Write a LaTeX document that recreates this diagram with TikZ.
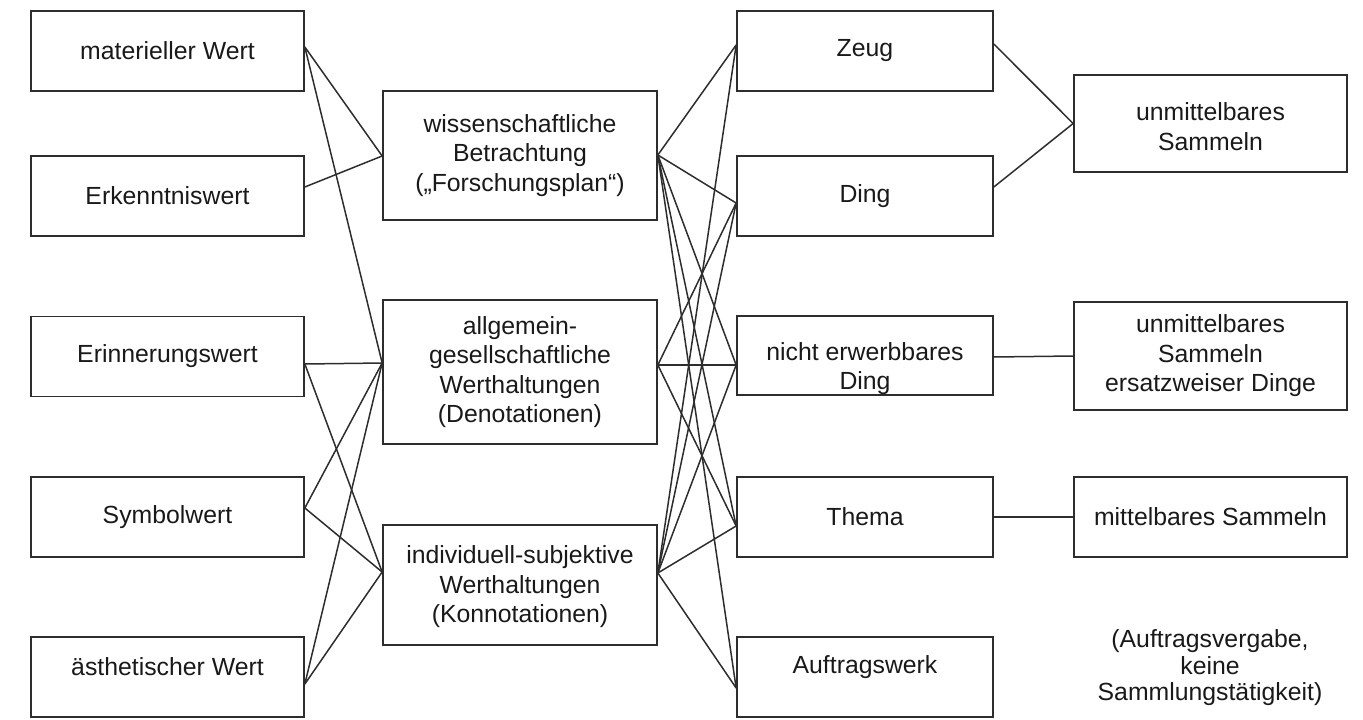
\documentclass[tikz,border=0pt]{standalone}
\usepackage{fontspec}
\setmainfont{Liberation Sans}
\usetikzlibrary{calc}
\definecolor{ln}{RGB}{45,45,45}
\definecolor{tx}{RGB}{25,25,25}
\begin{document}
\begin{tikzpicture}[x=1pt,y=-1pt,
  txt/.style={align=center,text=tx,inner sep=0pt,font=\fontsize{24.8}{29.5}\selectfont},
  box/.style={draw=ln,line width=1.7pt,rectangle,txt},
  wa/.style={box,minimum width=273pt,minimum height=80pt},
  wb/.style={box,minimum width=274pt},
  wc/.style={box,minimum width=256pt,minimum height=80pt},
  conn/.style={draw=ln,line width=1.5pt}]
\useasboundingbox (0,0) rectangle (1363,720);
% column 1
\node[wa] (mat)  at (167.5,51)  {materieller Wert};
\node[wa] (erk)  at (167.5,196) {Erkenntniswert};
\node[wa] (erin) at (167.5,356.5) {Erinnerungswert};
\node[wa] (sym)  at (167.5,517) {Symbolwert};
\node[wa,label={[txt,yshift=10pt]center:ästhetischer Wert}] (aest) at (167.5,677) {};
% column 2
\node[wb,minimum height=129pt] (A) at (520,155.5) {wissenschaftliche\\Betrachtung\\(„Forschungsplan“)};
\node[wb,minimum height=144pt] (B) at (520,372) {allgemein-\\gesellschaftliche\\Werthaltungen\\(Denotationen)};
\node[wb,minimum height=120pt,label={[txt,yshift=-2pt]center:{individuell-subjektive\\Werthaltungen\\(Konnotationen)}}] (C) at (520,585) {};
% column 3
\node[wc] (zeug) at (865,51)  {Zeug};
\node[wc] (ding) at (865,196) {Ding};
\node[wc,minimum height=79pt,label={[txt,yshift=-13pt]center:{nicht erwerbbares\\Ding}}] (ned) at (865,355.5) {};
\node[wc] (thema) at (865,517) {Thema};
\node[wc,label={[txt,yshift=10pt]center:Auftragswerk}] (auft) at (865,677) {};
% column 4
\node[wa,minimum height=97pt,label={[txt,yshift=-3pt]center:{unmittelbares\\Sammeln}}] (unm) at (1210.5,123.5) {};
\node[wa,minimum height=108pt] (ers) at (1210.5,356) {unmittelbares\\Sammeln\\ersatzweiser Dinge};
\node[wa] (mit) at (1210.5,517) {mittelbares Sammeln};
\node[txt,font=\fontsize{24.8}{26.5}\selectfont] (note) at (1210,668) {(Auftragsvergabe,\\keine\\Sammlungstätigkeit)};
% anchor points
\coordinate (matR) at ($(mat.east)+(0,-4)$);
\coordinate (erkR) at ($(erk.east)+(0,-9)$);
\coordinate (erinR) at ($(erin.east)+(0,7.5)$);
\coordinate (symR) at ($(sym.east)+(0,-9)$);
\coordinate (aestR) at ($(aest.east)+(0,7)$);
\coordinate (AL) at ($(A.west)+(0,0.5)$);
\coordinate (BL) at ($(B.west)+(0,-9)$);
\coordinate (CL) at ($(C.west)+(0,-13)$);
\coordinate (AR) at ($(A.east)+(0,-0.5)$);
\coordinate (BR) at ($(B.east)+(0,-7)$);
\coordinate (CR) at ($(C.east)+(0,-12)$);
\coordinate (zeugL) at ($(zeug.west)+(0,-6)$);
\coordinate (dingL) at ($(ding.west)+(0,7)$);
\coordinate (nedL) at ($(ned.west)+(0,9.5)$);
\coordinate (themaL) at ($(thema.west)+(0,9)$);
\coordinate (auftL) at ($(auft.west)+(0,11)$);
\coordinate (zeugR) at ($(zeug.east)+(0,-7)$);
\coordinate (dingR) at ($(ding.east)+(0,-9)$);
\coordinate (nedR) at ($(ned.east)+(0,1.5)$);
% left connectors
\draw[conn] (matR) -- (AL);
\draw[conn] (matR) -- (BL);
\draw[conn] (erkR) -- (AL);
\draw[conn] (erinR) -- (BL);
\draw[conn] (erinR) -- (CL);
\draw[conn] (symR) -- (BL);
\draw[conn] (symR) -- (CL);
\draw[conn] (aestR) -- (BL);
\draw[conn] (aestR) -- (CL);
% middle connectors
\draw[conn] (AR) -- (zeugL);
\draw[conn] (AR) -- (dingL);
\draw[conn] (AR) -- (nedL);
\draw[conn] (AR) -- (themaL);
\draw[conn] (AR) -- (auftL);
\draw[conn] (BR) -- (dingL);
\draw[conn] (BR) -- (nedL);
\draw[conn] (BR) -- (themaL);
\draw[conn] (CR) -- (zeugL);
\draw[conn] (CR) -- (dingL);
\draw[conn] (CR) -- (nedL);
\draw[conn] (CR) -- (themaL);
\draw[conn] (CR) -- (auftL);
% right connectors
\draw[conn] (zeugR) -- (unm.west);
\draw[conn] (dingR) -- (unm.west);
\draw[conn] (nedR) -- (ers.west);
\draw[conn] (thema.east) -- (mit.west);
\end{tikzpicture}
\end{document}
